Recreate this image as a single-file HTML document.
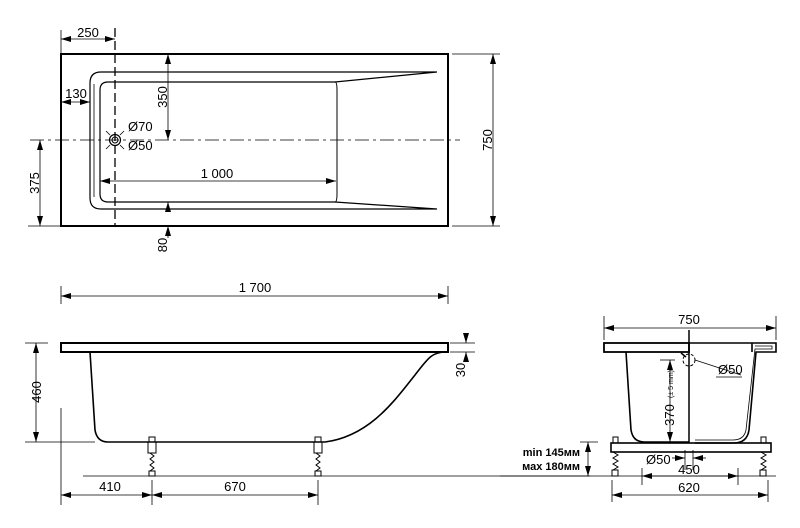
<!DOCTYPE html>
<html><head><meta charset="utf-8"><style>
html,body{margin:0;padding:0;background:#fff;}
svg{display:block;font-family:"Liberation Sans",Arial,sans-serif;}
</style></head><body>
<svg width="800" height="528" viewBox="0 0 800 528" xmlns="http://www.w3.org/2000/svg">
<defs>
<marker id="a" viewBox="0 0 10 6" refX="10" refY="3" markerWidth="10" markerHeight="6" orient="auto-start-reverse" markerUnits="userSpaceOnUse"><path d="M0,0L10,3L0,6z" fill="#000"/></marker>
</defs>
<rect x="0" y="0" width="800" height="528" fill="#fff"/>
<g fill="none" stroke="#000">
<rect x="61" y="54" width="387" height="172" stroke-width="2"/>
<path d="M101,72 L437,72 L335,82 L108,82 Q100,82 100,90 L100,194 Q100,202 108,202 L335,202 L437,209 L101,209 Q90,209 90,198 L90,83 Q90,72 101,72 Z" stroke-width="1.2"/>
<path d="M94,84 L94,197" stroke-width="0.8"/>
<path d="M335,82 Q337,82 337,90 L337,194 Q337,202 335,202" stroke-width="1"/>
<line x1="115" y1="28" x2="115" y2="226" stroke-width="1.3" stroke-dasharray="9,4"/>
<line x1="30" y1="140" x2="460" y2="140" stroke-width="0.8" stroke-dasharray="14,4,3,4"/>
<circle cx="115" cy="140" r="5.5" stroke-width="1.2"/>
<circle cx="115" cy="140" r="3" stroke-width="1"/>
<g stroke-width="0.8">
<line x1="61" y1="39" x2="115" y2="39" marker-start="url(#a)" marker-end="url(#a)"/>
<line x1="61" y1="30" x2="61" y2="54"/>
<line x1="61" y1="102" x2="90" y2="102" marker-start="url(#a)" marker-end="url(#a)"/>
<line x1="168" y1="54" x2="168" y2="140" marker-start="url(#a)" marker-end="url(#a)"/>
<line x1="100" y1="181" x2="336" y2="181" marker-start="url(#a)" marker-end="url(#a)"/>
<line x1="168" y1="202" x2="168" y2="210" marker-start="url(#a)"/>
<line x1="168" y1="226" x2="168" y2="238" marker-start="url(#a)"/>
<line x1="40" y1="140" x2="40" y2="226" marker-start="url(#a)" marker-end="url(#a)"/>
<line x1="28" y1="226" x2="61" y2="226"/>
<line x1="493" y1="54" x2="493" y2="226" marker-start="url(#a)" marker-end="url(#a)"/>
<line x1="452" y1="54" x2="500" y2="54"/><line x1="452" y1="226" x2="500" y2="226"/>
<line x1="106" y1="131" x2="110" y2="135"/><line x1="124" y1="131" x2="120" y2="135"/>
<line x1="106" y1="149" x2="110" y2="145"/><line x1="124" y1="149" x2="120" y2="145"/>
<line x1="61" y1="296" x2="448" y2="296" marker-start="url(#a)" marker-end="url(#a)"/>
<line x1="61" y1="286" x2="61" y2="304"/><line x1="448" y1="286" x2="448" y2="304"/>
</g>
<rect x="61" y="343" width="387" height="9" stroke-width="2"/>
<path d="M90,352 L95,430 Q97,442 108,442 L325,442 C370,436 395,400 415,375 C428,358 432,352 446,352" stroke-width="1.6"/>
<g stroke-width="0.8">
<line x1="83" y1="476" x2="590" y2="476"/>
<line x1="25" y1="343" x2="48" y2="343"/><line x1="25" y1="442" x2="95" y2="442"/>
<line x1="36" y1="343" x2="36" y2="442" marker-start="url(#a)" marker-end="url(#a)"/>
<line x1="450" y1="343" x2="475" y2="343"/><line x1="450" y1="352" x2="475" y2="352"/>
<line x1="466" y1="333" x2="466" y2="343" marker-end="url(#a)"/>
<line x1="466" y1="362" x2="466" y2="352" marker-end="url(#a)"/>
<line x1="61" y1="408" x2="61" y2="505"/>
<line x1="152" y1="480" x2="152" y2="505"/><line x1="318" y1="480" x2="318" y2="505"/>
<line x1="61" y1="495" x2="152" y2="495" marker-start="url(#a)" marker-end="url(#a)"/>
<line x1="152" y1="495" x2="318" y2="495" marker-start="url(#a)" marker-end="url(#a)"/>
</g>
<g stroke-width="1">
<rect x="149" y="437" width="6" height="5"/><rect x="148" y="442" width="8" height="11"/>
<path d="M150,453 L154,456 L150,459 L154,462 L150,465 L154,468 L150,471"/><rect x="149" y="471" width="6" height="5"/>
<rect x="315" y="437" width="6" height="5"/><rect x="314" y="442" width="8" height="11"/>
<path d="M316,453 L320,456 L316,459 L320,462 L316,465 L320,468 L316,471"/><rect x="315" y="471" width="6" height="5"/>
</g>
<rect x="604" y="343" width="85" height="9" stroke-width="1.8"/>
<path d="M689,343 L752,343 L752,352 M752,343 L776,343 L776,352 L756,352 L749,430 Q747,443 734,443 L695,443" stroke-width="1.6"/>
<path d="M755,346 L772,346 L772,349 L755,349 L746,430 Q744,440 733,440 L695,440" stroke-width="0.8"/>
<path d="M626,352 L631,430 Q633,442 644,442 L689,442" stroke-width="1.6"/>
<line x1="689" y1="330" x2="689" y2="443" stroke-width="1.5"/>
<circle cx="689" cy="360" r="6" stroke-width="1" stroke-dasharray="3,2"/>
<path d="M681,353 L686,357" stroke-width="1.5"/>
<rect x="611" y="443" width="160" height="9" stroke-width="1.6"/>
<g stroke-width="1">
<rect x="613" y="437" width="5" height="6"/><path d="M613,452 L618,455 L613,458 L618,461 L613,464 L618,467 L613,470"/><rect x="612" y="470" width="6" height="6"/>
<rect x="761" y="437" width="5" height="6"/><path d="M761,452 L766,455 L761,458 L766,461 L761,464 L766,467 L761,470"/><rect x="760" y="470" width="6" height="6"/>
</g>
<g stroke-width="0.8">
<line x1="604" y1="316" x2="604" y2="340"/><line x1="776" y1="316" x2="776" y2="340"/>
<line x1="604" y1="328" x2="776" y2="328" marker-start="url(#a)" marker-end="url(#a)"/>
<line x1="695" y1="360" x2="741" y2="375"/>
<line x1="716" y1="377" x2="742" y2="377"/>
<line x1="660" y1="360" x2="675" y2="360"/>
<line x1="670" y1="360" x2="670" y2="442" marker-start="url(#a)" marker-end="url(#a)"/>
<line x1="588" y1="442" x2="588" y2="476" marker-start="url(#a)" marker-end="url(#a)"/>
<line x1="580" y1="442" x2="598" y2="442"/>
<line x1="500" y1="476" x2="776" y2="476"/>
<line x1="672" y1="458" x2="685" y2="458" marker-end="url(#a)"/>
<line x1="706" y1="458" x2="693" y2="458" marker-end="url(#a)"/>
<line x1="685" y1="450" x2="685" y2="470"/><line x1="693" y1="450" x2="693" y2="470"/>
<line x1="642" y1="476" x2="738" y2="476" marker-start="url(#a)" marker-end="url(#a)"/>
<line x1="642" y1="468" x2="642" y2="485"/><line x1="738" y1="468" x2="738" y2="485"/>
<line x1="612" y1="495" x2="768" y2="495" marker-start="url(#a)" marker-end="url(#a)"/>
<line x1="612" y1="480" x2="612" y2="502"/><line x1="768" y1="480" x2="768" y2="502"/>
</g>
</g>
<g fill="#000" font-size="13">
<text x="88" y="37" text-anchor="middle">250</text>
<text x="76" y="98" text-anchor="middle">130</text>
<text x="128" y="131">Ø70</text>
<text x="128" y="150">Ø50</text>
<text x="217" y="178" text-anchor="middle">1 000</text>
<text transform="translate(167,97) rotate(-90)" text-anchor="middle">350</text>
<text transform="translate(167,245) rotate(-90)" text-anchor="middle">80</text>
<text transform="translate(39,183) rotate(-90)" text-anchor="middle">375</text>
<text transform="translate(492,140) rotate(-90)" text-anchor="middle">750</text>
<text x="255" y="292" text-anchor="middle">1 700</text>
<text transform="translate(41,392) rotate(-90)" text-anchor="middle">460</text>
<text transform="translate(465,370) rotate(-90)" text-anchor="middle">30</text>
<text x="110" y="491" text-anchor="middle">410</text>
<text x="235" y="491" text-anchor="middle">670</text>
<text x="689" y="324" text-anchor="middle">750</text>
<text x="718" y="374">Ø50</text>
<text transform="translate(674,415) rotate(-90)" text-anchor="middle">370</text>
<text transform="translate(673,384) rotate(-90)" text-anchor="middle" font-size="7">(± 5 mm)</text>
<text x="646" y="464">Ø50</text>
<text x="689" y="474" text-anchor="middle">450</text>
<text x="689" y="492" text-anchor="middle">620</text>
<text x="580" y="456" text-anchor="end" font-weight="bold" font-size="11">min 145мм</text>
<text x="580" y="470" text-anchor="end" font-weight="bold" font-size="11">мах 180мм</text>
</g>
</svg>
</body></html>
